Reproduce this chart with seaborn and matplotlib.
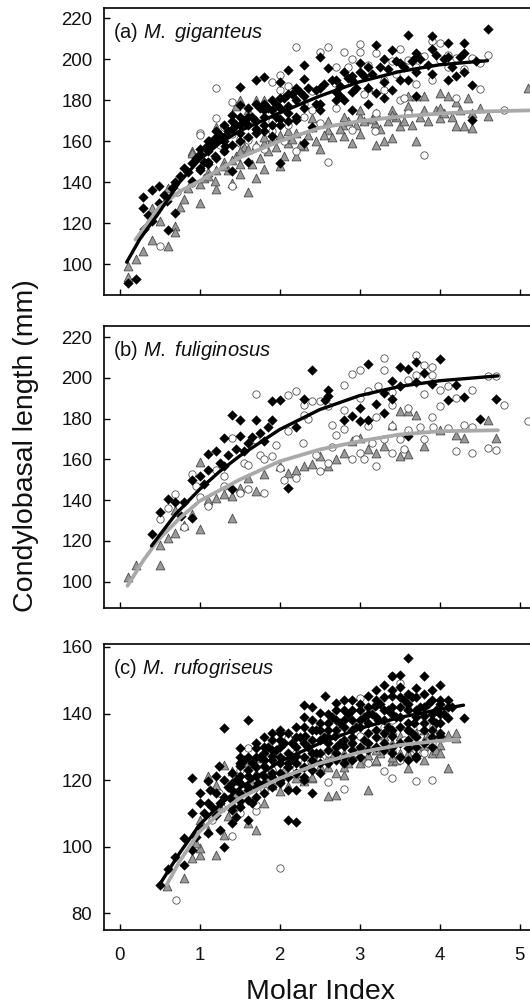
import numpy as np
import pandas as pd
import matplotlib
matplotlib.use("Agg")
import matplotlib.pyplot as plt
import seaborn as sns

sns.set_theme(style="white")
plt.rcParams['font.family'] = ['Liberation Sans', 'DejaVu Sans']
plt.rcParams['mathtext.fontset'] = 'custom'
plt.rcParams['mathtext.rm'] = 'Liberation Sans'
plt.rcParams['mathtext.it'] = 'Liberation Sans:italic'

# ---------------- data ----------------
panel_titles = ["(a) $\\mathit{M.\\ giganteus}$", "(b) $\\mathit{M.\\ fuliginosus}$",
                "(c) $\\mathit{M.\\ rufogriseus}$"]
x_ticks = [0, 1, 2, 3, 4, 5]
y_ticks_a = [100, 120, 140, 160, 180, 200, 220]
y_ticks_b = [100, 120, 140, 160, 180, 200, 220]
y_ticks_c = [80, 100, 120, 140, 160]

# Panel (a) M. giganteus
a_diamond = [(0.1, 91), (0.2, 93), (0.29, 132.8), (0.29, 127.6), (0.4, 136), (0.49, 138), (0.31, 117),
             (0.4, 121), (0.6, 116.8), (0.69, 140), (0.8, 147), (0.9, 149.5), (1.0, 154), (1.09, 157.6),
             (1.19, 161.7), (1.4, 173), (1.5, 177.9), (1.5, 186.5), (1.7, 190), (1.8, 191.3), (2.0, 188.7),
             (2.1, 194.6), (2.31, 197), (2.31, 190.5), (2.5, 201), (2.6, 195.7), (2.8, 194), (2.9, 190),
             (3.0, 194), (3.0, 198), (3.2, 207), (3.4, 204.6), (3.6, 212), (3.7, 203), (3.9, 211.4),
             (4.1, 207.8), (4.3, 207.8), (4.6, 214.6), (4.4, 187.6), (4.4, 170.6), (4.1, 190), (4.2, 192),
             (3.7, 182), (3.6, 190), (3.4, 185), (3.3, 181), (3.2, 183.5), (2.9, 175), (2.8, 180),
             (2.7, 184), (2.5, 175.4), (2.4, 167), (2.31, 159), (2.2, 170.6), (2.1, 177), (2.0, 168),
             (2.0, 149.5), (1.9, 162.5), (1.8, 172), (1.7, 164), (1.6, 150), (1.5, 164), (1.4, 145.4),
             (1.32, 157.6), (1.19, 152.7), (1.1, 148.7), (1.0, 147), (0.9, 140.6), (0.69, 125), (0.59, 131),
             (0.49, 130), (0.35, 124), (0.55, 134), (0.75, 143), (0.95, 152), (1.05, 150), (1.15, 158),
             (1.25, 163), (1.3, 160), (1.45, 168), (1.55, 170), (1.6, 168), (1.65, 172), (1.75, 176),
             (1.85, 176), (1.95, 178), (2.05, 181), (2.15, 183), (2.25, 184), (2.35, 186), (2.45, 185),
             (2.55, 188), (2.65, 190), (2.75, 187), (2.85, 191), (2.95, 186), (3.05, 192), (3.15, 193),
             (3.25, 196), (3.35, 195), (3.45, 199), (3.55, 196), (3.65, 199), (3.75, 200), (3.85, 197),
             (3.95, 202), (4.05, 200), (4.15, 196), (4.25, 201), (4.45, 199), (1.35, 165), (1.12, 160),
             (0.85, 145), (0.65, 137), (2.75, 182), (3.1, 178), (1.95, 172), (2.45, 178)]
a_diamond_more = [(1.0, 146), (1.0, 156), (1.1, 150), (1.1, 155), (1.1, 160), (1.2, 152), (1.2, 160),
                  (1.2, 165), (1.3, 155), (1.3, 162), (1.3, 168), (1.4, 158), (1.4, 166), (1.4, 170),
                  (1.5, 160), (1.5, 168), (1.5, 172), (1.6, 162), (1.6, 172), (1.6, 176), (1.7, 166),
                  (1.7, 170), (1.7, 178), (1.8, 165), (1.8, 168), (1.8, 175), (1.8, 178), (1.9, 168),
                  (1.9, 175), (1.9, 180), (2.0, 171), (2.0, 176), (2.0, 181), (2.1, 170), (2.1, 174),
                  (2.1, 183), (2.2, 172), (2.2, 180), (2.2, 186), (2.3, 176), (2.3, 182), (2.5, 178),
                  (2.5, 186), (2.7, 180), (2.7, 190), (2.9, 184), (2.9, 192), (3.1, 186), (3.1, 196),
                  (3.3, 189), (3.3, 200), (3.5, 190), (3.5, 198), (3.7, 194), (3.7, 201), (3.9, 193),
                  (3.9, 205), (4.1, 201), (4.3, 194), (4.3, 203)]
a_circle = [(1.2, 186), (1.2, 171.4), (1.0, 164), (1.4, 179), (1.4, 163.6), (1.4, 138), (1.6, 170.6),
            (1.9, 188.7), (2.0, 192.4), (2.0, 185), (2.2, 206), (2.5, 203.3), (2.6, 206), (2.8, 203.3),
            (3.0, 207.4), (3.0, 203.3), (3.2, 203), (3.4, 199), (3.6, 199.7), (3.81, 201.4), (4.0, 208),
            (4.0, 199.7), (4.2, 200.5), (4.4, 200.5), (4.6, 202), (4.51, 185.5), (4.2, 181), (4.81, 175.4),
            (3.81, 153.4), (2.6, 149.8), (3.5, 180.3), (3.21, 173.8), (2.69, 188.4), (2.4, 184.3),
            (2.4, 175.4), (2.2, 155), (1.8, 156), (1.6, 160.8), (0.9, 139.8), (0.72, 135), (0.51, 109),
            (1.0, 163), (2.9, 165.7), (3.6, 173.8), (3.19, 165), (1.3, 167), (1.5, 159), (1.7, 166),
            (1.9, 170), (2.1, 168), (2.3, 172), (2.7, 176), (3.3, 190), (3.7, 188), (3.9, 190), (4.1, 196),
            (2.85, 196), (3.45, 193), (1.1, 150), (1.25, 158), (2.05, 160), (3.05, 183), (3.55, 181),
            (1.3, 155), (1.5, 161), (1.7, 157), (1.9, 165), (2.1, 187), (2.3, 178), (2.5, 169), (2.7, 196),
            (2.9, 200), (3.1, 197), (3.3, 185), (3.5, 205), (3.7, 196), (3.9, 209), (4.1, 202), (4.3, 195),
            (4.5, 198)]
a_triangle = [(0.1, 99), (0.1, 94), (0.2, 102.5), (0.29, 106.5), (0.4, 112), (0.4, 127.6), (0.6, 109),
              (0.69, 118.7), (0.69, 115.5), (0.6, 137), (0.8, 131.7), (1.0, 130), (0.9, 155.2), (1.2, 167),
              (1.2, 136.5), (1.4, 139.8), (1.5, 143.8), (1.6, 135.2), (1.7, 180.3), (1.8, 180.3),
              (1.5, 180.3), (1.7, 142), (1.8, 146.3), (2.0, 148), (2.1, 159.2), (2.2, 152.7), (2.31, 157.6),
              (2.5, 156), (2.6, 165.7), (2.8, 162.5), (2.9, 159.2), (3.0, 163.3), (3.1, 186.5), (3.2, 158.4),
              (3.3, 160), (3.4, 161.6), (3.5, 167.3), (3.6, 182), (3.7, 160), (3.7, 182), (3.81, 182),
              (4.0, 183.5), (4.1, 182), (4.2, 167.6), (4.3, 167.3), (4.4, 166.5), (4.6, 172.5), (5.1, 186),
              (3.4, 175.4), (4.0, 171.4), (3.6, 174.6), (3.19, 169), (2.79, 168), (2.4, 171.4), (2.1, 165),
              (1.6, 175.4), (1.19, 140.6), (1.0, 139), (0.9, 154.4), (1.1, 145), (1.3, 150), (1.45, 153),
              (1.55, 157), (1.65, 149), (1.75, 152), (1.85, 155), (1.95, 157), (2.05, 153), (2.15, 161),
              (2.25, 158), (2.35, 163), (2.45, 160), (2.55, 163), (2.65, 162), (2.75, 166), (2.85, 170),
              (2.95, 168), (3.05, 170), (3.15, 171), (3.25, 166), (3.35, 170), (3.45, 172), (3.55, 170),
              (3.65, 168), (3.75, 172), (3.85, 170), (3.95, 175), (4.05, 174), (4.15, 172), (4.25, 175),
              (4.35, 181), (0.5, 121), (0.75, 128), (0.85, 137), (1.05, 142), (1.35, 146), (1.45, 177),
              (1.1, 143), (1.2, 146), (1.3, 148), (1.4, 151), (1.5, 149), (1.5, 155), (1.6, 156), (1.7, 158),
              (1.8, 159), (1.8, 162), (1.9, 161), (2.0, 163), (2.2, 164), (2.4, 167), (2.6, 170), (2.8, 172),
              (3.0, 172), (3.0, 175), (3.2, 174), (3.4, 173), (3.6, 177), (3.8, 175), (4.0, 176), (4.2, 179),
              (4.4, 174), (4.5, 176)]
a_line_black = [(0.09, 101), (0.25, 112), (0.49, 125), (0.75, 140), (1.0, 151), (1.25, 159), (1.5, 165),
                (2.0, 173.8), (2.5, 182), (3.0, 189), (3.5, 194), (4.0, 197.3), (4.6, 199.3)]
a_line_grey = [(0.2, 112), (0.5, 128), (0.75, 135.5), (1.0, 140.6), (1.5, 152), (2.0, 160), (2.5, 166.5),
               (3.0, 169.8), (3.5, 172), (4.0, 173.5), (4.5, 174.5), (5.3, 175.2)]

# Panel (b) M. fuliginosus
b_diamond = [(0.4, 123.5), (0.5, 134), (0.6, 140.3), (0.8, 139), (0.9, 131.3), (0.9, 150), (1.0, 151.8),
             (1.1, 154.7), (1.2, 164), (1.31, 170.5), (1.4, 182), (1.5, 179.5), (1.5, 171.3), (1.6, 168),
             (1.7, 179.5), (1.9, 188.5), (2.0, 189.3), (2.1, 146), (2.31, 189.8), (2.41, 203.7),
             (2.6, 194.2), (2.8, 179.5), (2.9, 181.1), (3.0, 185.2), (3.1, 206.8), (3.1, 179.5),
             (3.3, 182.8), (3.4, 198.3), (3.5, 205.6), (3.6, 204.3), (3.7, 208), (3.8, 202.4),
             (4.01, 209.2), (4.1, 189.3), (4.2, 196.7), (4.3, 190.4), (4.51, 179.8), (4.71, 189.6),
             (3.6, 171.3), (3.0, 178.7), (1.9, 179.5), (1.8, 168.9), (1.4, 145.2), (1.31, 156.7),
             (1.1, 162.4), (0.69, 139), (0.77, 132), (2.57, 189.3), (3.3, 192.6), (3.4, 189.8),
             (1.05, 148), (1.25, 158), (1.35, 162), (1.45, 165), (1.55, 164), (1.65, 171), (1.75, 173),
             (1.85, 176), (2.2, 176), (2.6, 191), (3.2, 187), (3.5, 196), (3.7, 198), (3.9, 197)]
b_circle = [(0.5, 130.5), (0.69, 142.8), (0.8, 127), (0.9, 152.6), (1.0, 141.6), (1.2, 155), (1.4, 170.5),
            (1.7, 192), (1.7, 169.7), (1.8, 143.6), (2.0, 155.8), (2.1, 191.8), (2.2, 193.4), (2.2, 151),
            (2.31, 186.9), (2.41, 188.5), (2.5, 154.2), (2.6, 158.3), (2.7, 172.2), (2.8, 196.7),
            (2.9, 202), (3.0, 204), (3.0, 163.2), (3.1, 193.4), (3.2, 156.7), (3.3, 209.7), (3.3, 204),
            (3.4, 163.2), (3.6, 199.1), (3.7, 211.3), (3.7, 201.6), (3.8, 206.4), (3.9, 205.6),
            (4.0, 194.2), (4.1, 175.4), (4.2, 164), (4.4, 194.2), (4.4, 163.2), (4.6, 200.7),
            (4.71, 200.7), (4.81, 186.9), (4.71, 164.8), (5.1, 178.7), (4.6, 165.6), (4.31, 177),
            (3.9, 181), (3.6, 174.6), (3.4, 186.9), (3.4, 176.2), (3.1, 176.2), (2.9, 160), (2.8, 184.4),
            (2.5, 188.5), (2.29, 168), (2.1, 173.8), (1.9, 161.6), (1.6, 145.2), (1.5, 143.6),
            (1.31, 146.9), (1.1, 137), (3.9, 201.6), (4.1, 196), (3.23, 196), (3.92, 176), (1.3, 152),
            (1.55, 158), (1.75, 162), (1.95, 167), (2.35, 180), (2.65, 177), (2.95, 170), (3.15, 168),
            (3.5, 170), (3.75, 176), (2.05, 150), (0.6, 136), (0.95, 147),
            (2.3, 182), (2.6, 186), (2.8, 175), (3.0, 190), (3.2, 181), (3.4, 193), (3.6, 185), (3.8, 192),
            (4.0, 186), (4.2, 190), (4.4, 176), (3.05, 160), (3.3, 170), (3.55, 165), (3.8, 170),
            (2.45, 162), (2.65, 166), (1.6, 157), (1.8, 160)]
b_triangle = [(0.1, 102.4), (0.2, 108.2), (0.5, 108.2), (0.5, 118), (0.6, 121.6), (0.69, 135.1),
              (0.69, 124), (0.8, 127.6), (1.0, 126), (1.0, 158.6), (1.2, 141.1), (1.4, 131.3), (1.4, 142),
              (1.6, 151), (1.8, 152.6), (1.7, 144.4), (2.0, 156.7), (2.1, 153.4), (2.2, 155), (2.31, 156.7),
              (2.41, 157.5), (2.5, 161.6), (2.6, 156.7), (2.8, 163.2), (3.0, 170.5), (3.2, 163.2),
              (3.4, 177), (3.5, 183.6), (3.6, 183.6), (3.5, 161.6), (3.6, 162.4), (3.7, 182), (3.81, 166.5),
              (4.0, 174.6), (4.2, 172.2), (4.3, 170.5), (4.6, 179.5), (4.71, 170.5), (3.3, 166.5),
              (2.9, 169), (1.5, 146), (0.9, 133), (1.1, 140), (1.3, 143), (2.7, 160), (3.1, 165)]
b_line_black = [(0.4, 117.5), (0.7, 133), (1.0, 145.2), (1.25, 154), (1.5, 161.6), (2.0, 174.6),
                (2.5, 184.4), (3.0, 191.3), (3.5, 195.8), (4.0, 198.6), (4.73, 201)]
b_line_grey = [(0.1, 97.9), (0.3, 110.5), (0.49, 120.7), (0.75, 131), (1.0, 139.5), (1.5, 150),
               (2.0, 159), (2.5, 164.8), (3.0, 168.9), (3.5, 172.2), (4.0, 173.8), (4.73, 174.3)]

# Panel (c) M. rufogriseus
c_diamond = [(0.51, 88.5), (0.6, 93.2), (0.69, 97), (0.8, 102.6), (0.8, 94.5), (0.9, 120.6), (0.9, 99),
             (1.0, 113), (1.0, 106), (1.1, 119.6), (1.1, 104), (1.2, 109.6), (1.2, 121.1), (1.31, 135.6),
             (1.31, 100), (1.31, 115), (1.4, 117), (1.4, 107), (1.5, 129.6), (1.5, 124.1), (1.6, 138.1),
             (1.6, 108), (1.6, 121.1), (1.7, 129.6), (1.8, 128.1), (1.8, 121.1), (1.9, 132.1), (2.0, 135.1),
             (2.0, 119.1), (2.1, 108), (2.2, 107.3), (2.2, 117.1), (2.31, 142.7), (2.4, 116.1),
             (2.41, 142), (2.5, 140.2), (2.5, 132.1), (2.6, 137.1), (2.7, 143.2), (2.8, 144.2),
             (2.9, 144.2), (3.0, 141.2), (3.1, 145.2), (3.2, 147.2), (3.3, 148.7), (3.4, 151.2),
             (3.5, 151.7), (3.6, 156.7), (3.7, 147.7), (3.8, 151.2), (3.9, 144.2), (4.01, 148.7),
             (4.1, 138.6), (4.3, 138.6), (4.0, 144.2), (3.9, 135.1), (3.7, 127.1), (3.6, 129.6),
             (3.4, 133.1), (3.3, 129.1), (3.1, 134.1), (2.9, 129.1), (2.8, 130.1), (2.7, 126.1),
             (2.6, 135.1), (2.4, 126.1), (2.32, 133.1), (2.2, 127.1), (2.1, 125.1), (2.0, 125.1),
             (1.9, 127.1), (1.8, 124.1), (1.7, 121.1), (1.6, 117.1), (1.5, 113.6), (1.4, 112.1),
             (1.31, 120.1), (1.2, 116.1), (1.1, 113), (1.0, 116.1), (0.9, 110), (2.57, 145.2),
             (3.19, 142.2), (3.4, 145.2), (3.6, 141.2), (3.81, 139.1), (3.68, 137.1), (4.0, 133.1),
             (3.23, 138.1), (2.9, 138.1), (2.69, 133.1), (2.15, 131.1), (1.9, 122.1), (1.73, 119.1),
             (1.5, 121.1), (1.24, 124.1), (1.13, 117.1), (3.7, 126.6), (0.95, 103), (1.05, 110),
             (1.15, 112), (1.25, 113), (1.35, 118), (1.45, 120), (1.55, 126), (1.65, 125), (1.75, 127),
             (1.85, 130), (1.95, 129), (2.05, 131), (2.15, 127), (2.25, 133), (2.35, 130), (2.45, 135),
             (2.55, 133), (2.65, 139), (2.75, 137), (2.85, 140), (2.95, 136), (3.05, 139), (3.15, 140),
             (3.25, 143), (3.35, 141), (3.45, 139), (3.55, 144), (3.65, 145), (3.75, 142), (3.85, 143),
             (3.95, 141), (4.05, 140), (4.15, 142), (2.45, 128), (2.75, 131), (3.05, 132), (3.35, 136),
             (3.65, 134), (3.95, 137), (1.65, 113), (1.45, 109), (1.25, 105), (2.0, 130), (2.3, 121)]
c_diamond_more = [(1.4, 111), (1.4, 114), (1.4, 119), (1.4, 122), (1.5, 112), (1.5, 116), (1.5, 119),
                  (1.5, 125), (1.5, 127), (1.6, 114), (1.6, 118), (1.6, 123), (1.6, 127), (1.7, 115),
                  (1.7, 118), (1.7, 124), (1.7, 127), (1.7, 131), (1.8, 116), (1.8, 119), (1.8, 126),
                  (1.8, 130), (1.8, 133), (1.9, 118), (1.9, 121), (1.9, 126), (1.9, 129), (1.9, 134),
                  (2.0, 120), (2.0, 122), (2.0, 127), (2.0, 132), (2.0, 134), (2.1, 117), (2.1, 121),
                  (2.1, 124), (2.1, 128), (2.1, 134), (2.2, 122), (2.2, 125), (2.2, 130), (2.2, 133),
                  (2.2, 136), (2.3, 120), (2.3, 124), (2.3, 127), (2.3, 131), (2.3, 136), (2.3, 139),
                  (2.4, 123), (2.4, 128), (2.4, 132), (2.4, 135), (2.4, 138), (2.5, 122), (2.5, 125),
                  (2.5, 128), (2.5, 135), (2.5, 137), (2.6, 125), (2.6, 129), (2.6, 131), (2.6, 133),
                  (2.6, 140), (2.7, 128), (2.7, 130), (2.7, 135), (2.7, 138), (2.7, 141), (2.8, 125),
                  (2.8, 127), (2.8, 132), (2.8, 136), (2.8, 138), (2.8, 141), (2.9, 126), (2.9, 131),
                  (2.9, 133), (2.9, 135), (2.9, 141), (3.0, 127), (3.0, 130), (3.0, 136), (3.0, 138),
                  (3.0, 143), (3.1, 129), (3.1, 131), (3.1, 137), (3.1, 140), (3.1, 142), (3.2, 130),
                  (3.2, 133), (3.2, 135), (3.2, 139), (3.2, 144), (3.3, 131), (3.3, 134), (3.3, 138),
                  (3.3, 141), (3.3, 145), (3.4, 128), (3.4, 130), (3.4, 135), (3.4, 140), (3.4, 142),
                  (3.4, 147), (3.5, 127), (3.5, 131), (3.5, 136), (3.5, 139), (3.5, 142), (3.5, 145),
                  (3.5, 148), (3.6, 126), (3.6, 132), (3.6, 135), (3.6, 137), (3.6, 143), (3.6, 146),
                  (3.7, 130), (3.7, 133), (3.7, 139), (3.7, 141), (3.7, 145), (3.8, 131), (3.8, 135),
                  (3.8, 137), (3.8, 142), (3.8, 146), (3.9, 130), (3.9, 133), (3.9, 138), (3.9, 140),
                  (3.9, 147), (4.0, 134), (4.0, 137), (4.0, 140), (4.0, 143), (4.1, 142), (4.1, 144)]
c_circle = [(0.7, 84), (1.4, 103.1), (1.5, 110.1), (1.6, 129.6), (1.7, 110.6), (1.7, 112.6), (1.9, 118.1),
            (2.0, 93.5), (2.1, 127.1), (2.2, 123.6), (2.6, 119.3), (2.8, 117.3), (2.8, 125.1), (3.0, 144.7),
            (3.1, 125.1), (3.3, 122.6), (3.4, 120.6), (3.4, 151.4), (3.5, 149.2), (3.7, 119.6),
            (3.9, 119.9), (3.81, 128.1), (3.4, 128.6), (3.4, 138.1), (3.19, 142.2), (3.0, 133.1),
            (2.77, 135.1), (2.4, 127.1), (2.1, 132.6), (1.9, 123.1), (1.5, 123.1), (1.34, 113),
            (1.24, 116.1), (3.6, 135.1), (3.92, 136.1), (2.5, 126), (2.95, 128), (3.25, 131),
            (3.55, 132), (3.75, 136), (1.8, 117), (2.3, 125), (1.15, 108),
            (2.6, 128), (2.9, 131), (3.1, 130), (3.3, 136), (3.5, 126), (3.7, 129), (3.9, 131),
            (2.2, 128), (1.8, 126)]
c_triangle = [(0.59, 88), (0.8, 90.5), (0.9, 96.5), (1.0, 97.5), (1.0, 99.5), (1.1, 121.1), (1.2, 118.6),
              (1.2, 97.5), (1.31, 124.6), (1.31, 103.6), (1.4, 122.6), (1.5, 126.1), (1.5, 113.1),
              (1.6, 125.1), (1.6, 107.1), (1.7, 126.6), (1.7, 105.1), (1.8, 113.1), (2.0, 116.6),
              (2.1, 118.1), (2.2, 120.6), (2.31, 119.6), (2.41, 120.6), (2.6, 115.1), (2.7, 115.6),
              (2.7, 122.1), (2.8, 121.6), (3.1, 117.1), (3.2, 125.6), (3.4, 125.6), (3.5, 128.1),
              (3.6, 123.6), (3.6, 142.2), (3.7, 134.1), (3.8, 130.1), (3.9, 128.1), (4.0, 130.6),
              (4.1, 123.6), (4.1, 133.6), (4.2, 132.6), (2.9, 127.1), (3.1, 127.6), (3.3, 133.1),
              (3.4, 135.1), (3.5, 133.1), (3.81, 135.1), (2.5, 124.1), (2.0, 120.6), (1.9, 118.6),
              (1.36, 109.1), (1.1, 105.1), (1.25, 112), (1.45, 116), (1.65, 119), (1.85, 121),
              (2.05, 123), (2.25, 124), (2.45, 127), (2.65, 128), (2.85, 125), (3.05, 126), (3.25, 128),
              (3.45, 126), (3.65, 130), (3.85, 133), (3.95, 129), (1.0, 108), (0.95, 101),
              (2.2, 122), (2.2, 125), (2.4, 121), (2.4, 126), (2.6, 124), (2.6, 127), (2.8, 124),
              (2.8, 128), (3.0, 125), (3.0, 130), (3.2, 126), (3.2, 129), (3.4, 127), (3.4, 131),
              (3.6, 128), (3.6, 132), (3.8, 126), (3.8, 132), (4.0, 128), (4.0, 133), (4.2, 134),
              (1.5, 120), (1.7, 122), (1.9, 124)]
c_line_black = [(0.5, 88.5), (0.75, 98), (1.0, 106.5), (1.25, 112.5), (1.5, 117.5), (2.0, 125.5),
                (2.5, 131), (3.0, 135.5), (3.5, 138.8), (4.0, 141.2), (4.3, 142.5)]
c_line_grey = [(0.59, 88.5), (0.75, 95.5), (1.0, 104.5), (1.25, 110), (1.5, 114.5), (2.0, 120.5),
               (2.5, 125), (3.0, 128.3), (3.5, 130.5), (4.0, 131.8), (4.23, 132.2)]

panels = [
    dict(dia=a_diamond + a_diamond_more, cir=a_circle, tri=a_triangle, lk=a_line_black,
         lg=a_line_grey, ylim=(85, 225), yticks=y_ticks_a, title=panel_titles[0]),
    dict(dia=b_diamond, cir=b_circle, tri=b_triangle, lk=b_line_black, lg=b_line_grey,
         ylim=(87, 225.5), yticks=y_ticks_b, title=panel_titles[1]),
    dict(dia=c_diamond + c_diamond_more, cir=c_circle, tri=c_triangle, lk=c_line_black,
         lg=c_line_grey, ylim=(74.9, 160.9), yticks=y_ticks_c, title=panel_titles[2]),
]

# ---------------- figure ----------------
W, H = 530, 1005
fig = plt.figure(figsize=(W / 100, H / 100), dpi=100)
left_px, width_px = 103.5, 448
boxes = [(8, 295), (326, 608), (644, 930)]   # top, bottom in pixels

tri_face = '#9a9a9a'
edge_dark = '#4a4a4a'

def df(pairs):
    return pd.DataFrame(pairs, columns=['x', 'y'])

for i, (p, (top, bot)) in enumerate(zip(panels, boxes)):
    ax = fig.add_axes([left_px / W, 1 - bot / H, width_px / W, (bot - top) / H])
    sns.scatterplot(data=df(p['tri']), x='x', y='y', ax=ax, marker='^', s=40,
                    color=tri_face, edgecolor=edge_dark, linewidth=0.6, zorder=2)
    sns.scatterplot(data=df(p['cir']), x='x', y='y', ax=ax, marker='o', s=28,
                    facecolor='white', edgecolor='#505050', linewidth=0.6, zorder=3)
    sns.scatterplot(data=df(p['dia']), x='x', y='y', ax=ax, marker='D', s=24,
                    color='black', edgecolor='black', linewidth=0.3, zorder=4)
    sns.lineplot(data=df(p['lg']), x='x', y='y', ax=ax, color='#a9a9a9', linewidth=2.7,
                 sort=False, estimator=None, zorder=5)
    sns.lineplot(data=df(p['lk']), x='x', y='y', ax=ax, color='black', linewidth=2.4,
                 sort=False, estimator=None, zorder=6)

    ax.set_xlim(-0.2, 5.4)
    ax.set_ylim(*p['ylim'])
    ax.set_xticks(x_ticks)
    ax.set_yticks(p['yticks'])
    ax.set_xlabel('')
    ax.set_ylabel('')
    ax.tick_params(axis='both', direction='in', length=4, width=1, color='black',
                   labelsize=13.4, labelcolor='#111111')
    ax.tick_params(axis='y', pad=8, left=True)
    ax.tick_params(axis='x', pad=12, bottom=True)
    if i < 2:
        ax.tick_params(axis='x', labelbottom=False)
    for s in ax.spines.values():
        s.set_linewidth(1.2)
        s.set_color('black')
    ax.text(0.021, 0.895, p['title'], transform=ax.transAxes, fontsize=14.5,
            ha='left', va='baseline', color='#111111')

fig.text(0.049, 1 - 446 / H, 'Condylobasal length (mm)', rotation=90, ha='center',
         va='center', fontsize=20.5, color='#111111')
fig.text(0.604, 0.006, 'Molar Index', ha='center', va='baseline', fontsize=20.5,
         color='#111111')

fig.savefig('out.png', dpi=100)
